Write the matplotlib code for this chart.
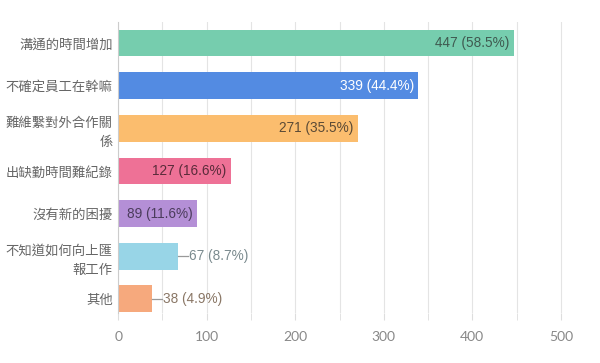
import matplotlib.pyplot as plt
import matplotlib.ticker as mticker

# dados
categorias = ['溝通的時間增加', '不確定員工在幹嘛', '難維繫對外合作關\n係', '出缺勤時間難紀錄',
              '沒有新的困擾', '不知道如何向上匯\n報工作', '其他']
valores = [447, 339, 271, 127, 89, 67, 38]
percentuais = ['58.5%', '44.4%', '35.5%', '16.6%', '11.6%', '8.7%', '4.9%']
cores = ['#76cdae', '#538be2', '#fbbd6e', '#ee7196', '#b48fd6', '#98d5e7', '#f6a97d']
cores_texto = ['#3f5a50', '#ffffff', '#5a4a36', '#5a2b3a', '#4b3c5c', '#7a8a8e', '#8a7766']
dentro = [True, True, True, True, True, False, False]

plt.rcParams['font.family'] = ['Noto Sans CJK TC', 'DejaVu Sans']

fig = plt.figure(figsize=(6, 3.63), dpi=100)
ax = fig.add_axes([0.197, 0.138, 0.782, 0.801])

pos = list(range(len(valores)))
ax.barh(pos, valores, height=0.63, color=cores, zorder=2)
ax.set_xlim(0, 530)
ax.set_ylim(6.33, -0.49)

for i, v in enumerate(valores):
    txt = f'{v} ({percentuais[i]})'
    if dentro[i]:
        ax.text(v - 5, i, txt, ha='right', va='center', fontsize=9.8,
                color=cores_texto[i], family='Liberation Sans', zorder=3)
    else:
        ax.plot([v, v + 12], [i, i], color='#999999', lw=0.9, zorder=3)
        ax.text(v + 13, i, txt, ha='left', va='center', fontsize=9.8,
                color=cores_texto[i], family='Liberation Sans', zorder=3)

ax.set_yticks(pos)
ax.set_yticklabels(categorias, fontsize=9.6, color='#666666', ha='right',
                   multialignment='right', linespacing=1.45)
ax.tick_params(axis='y', length=0, pad=4)

ax.xaxis.set_major_locator(mticker.MultipleLocator(100))
ax.xaxis.set_minor_locator(mticker.MultipleLocator(50))
ax.tick_params(axis='x', which='both', length=5, color='#dddddd', labelsize=10,
               labelcolor='#888888', pad=8)
for lbl in ax.get_xticklabels():
    lbl.set_family('Lato')
ax.grid(axis='x', which='both', color='#e4e4e4', lw=0.8, zorder=0)

for s in ['top', 'right', 'bottom']:
    ax.spines[s].set_visible(False)
ax.spines['left'].set_color('#cccccc')
ax.spines['left'].set_zorder(4)

plt.savefig('out.png', dpi=100)
